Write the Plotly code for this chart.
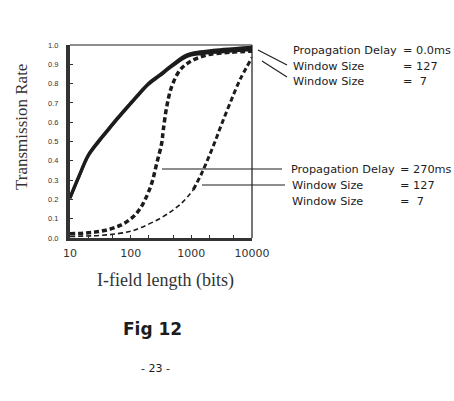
import plotly.graph_objects as go

# ---- data ----
x_d0_w127 = [10, 14, 20, 30, 43, 62, 91, 134, 195, 300, 500, 840, 1400, 3400, 10000]
y_d0_w127 = [0.21, 0.32, 0.43, 0.505, 0.565, 0.625, 0.685, 0.745, 0.80, 0.845, 0.90, 0.948, 0.964, 0.977, 0.988]

x_d0_w7 = [10, 14, 20, 30, 43, 62, 91, 134, 195, 300, 500, 840, 1400, 3400, 10000]
y_d0_w7 = [0.205, 0.315, 0.425, 0.50, 0.56, 0.62, 0.68, 0.74, 0.795, 0.84, 0.893, 0.94, 0.955, 0.965, 0.975]

x_d270_w127 = [10, 31, 67, 110, 143, 172, 222, 269, 324, 345, 393, 474, 650, 950, 1790, 4340, 10000]
y_d270_w127 = [0.022, 0.034, 0.065, 0.11, 0.152, 0.197, 0.283, 0.387, 0.49, 0.56, 0.68, 0.784, 0.87, 0.913, 0.948, 0.962, 0.968]

x_d270_w7 = [10, 30, 60, 100, 150, 300, 500, 740, 1075, 1480, 1900, 2460, 3160, 4340, 6340, 10000]
y_d270_w7 = [0.008, 0.013, 0.022, 0.035, 0.055, 0.10, 0.145, 0.19, 0.25, 0.335, 0.413, 0.50, 0.59, 0.698, 0.82, 0.935]

x_ticks = [10, 100, 1000, 10000]
x_tick_labels = ["10", "100", "1000", "10000"]
y_ticks = [0.0, 0.1, 0.2, 0.3, 0.4, 0.5, 0.6, 0.7, 0.8, 0.9, 1.0]

labels_top = ["Propagation Delay", "Window Size", "Window Size"]
values_top = ["= 0.0ms", "= 127", "=  7"]
labels_bot = ["Propagation Delay", "Window Size", "Window Size"]
values_bot = ["= 270ms", "= 127", "=  7"]

# ---- layout geometry (pixels) ----
W, H = 454, 401
L, R, T, B = 70, 252, 45, 238
pw, ph = R - L, B - T


def px(x):
    return (x - L) / pw


def py(y):
    return (B - y) / ph


INK = "#1c1c1c"
fig = go.Figure()

fig.add_trace(go.Scatter(x=x_d0_w7, y=y_d0_w7, mode="lines",
                         line=dict(color=INK, width=3, shape="spline")))
fig.add_trace(go.Scatter(x=x_d0_w127, y=y_d0_w127, mode="lines",
                         line=dict(color=INK, width=3.2, shape="spline")))
fig.add_trace(go.Scatter(x=x_d270_w127, y=y_d270_w127, mode="lines",
                         line=dict(color=INK, width=3.5, shape="spline", dash="5px,3px")))
split = 9
fig.add_trace(go.Scatter(x=x_d270_w7[:split], y=y_d270_w7[:split], mode="lines",
                         line=dict(color=INK, width=1.6, shape="spline", dash="5px,3px")))
fig.add_trace(go.Scatter(x=x_d270_w7[split - 1:], y=y_d270_w7[split - 1:], mode="lines",
                         line=dict(color=INK, width=3, shape="spline", dash="5px,3px")))

shapes = []
# thin top and right borders
shapes.append(dict(type="line", xref="paper", yref="paper", x0=0, x1=1, y0=1, y1=1,
                   line=dict(color=INK, width=1.2)))
shapes.append(dict(type="line", xref="paper", yref="paper", x0=1, x1=1, y0=0, y1=1,
                   line=dict(color=INK, width=1.2)))
# leader lines
for (x0, y0, x1, y1) in [(258, 50, 287, 65), (262, 61, 287, 77),
                         (162, 169, 282, 169), (202, 185, 285, 185)]:
    shapes.append(dict(type="line", xref="paper", yref="paper",
                       x0=px(x0), y0=py(y0), x1=px(x1), y1=py(y1),
                       line=dict(color=INK, width=1.1)))

annotations = []
lab_font = dict(family="DejaVu Sans", size=11.3, color=INK)
for i, (lab, val) in enumerate(zip(labels_top, values_top)):
    yy = [50, 66, 81][i]
    annotations.append(dict(x=px(291), y=py(yy), xref="paper", yref="paper", text=lab,
                            showarrow=False, xanchor="left", yanchor="middle", font=lab_font))
    annotations.append(dict(x=px(401), y=py(yy), xref="paper", yref="paper", text=val,
                            showarrow=False, xanchor="left", yanchor="middle", font=lab_font))
for i, (lab, val) in enumerate(zip(labels_bot, values_bot)):
    yy = [169, 185, 201][i]
    annotations.append(dict(x=px(289 if i == 0 else 290), y=py(yy), xref="paper", yref="paper",
                            text=lab, showarrow=False, xanchor="left", yanchor="middle",
                            font=lab_font))
    annotations.append(dict(x=px(398), y=py(yy), xref="paper", yref="paper", text=val,
                            showarrow=False, xanchor="left", yanchor="middle", font=lab_font))

annotations.append(dict(x=px(22), y=py(127), xref="paper", yref="paper",
                        text="Transmission Rate", textangle=-90, showarrow=False,
                        xanchor="center", yanchor="middle",
                        font=dict(family="Liberation Serif", size=17, color="#333")))
annotations.append(dict(x=px(165), y=py(280), xref="paper", yref="paper",
                        text="I-field length (bits)", showarrow=False,
                        xanchor="center", yanchor="middle",
                        font=dict(family="Liberation Serif", size=18, color="#333")))
annotations.append(dict(x=px(152), y=py(329), xref="paper", yref="paper",
                        text="<b>Fig 12</b>", showarrow=False,
                        xanchor="center", yanchor="middle",
                        font=dict(family="DejaVu Sans", size=17, color=INK)))
annotations.append(dict(x=px(155), y=py(368), xref="paper", yref="paper",
                        text="- 23 -", showarrow=False,
                        xanchor="center", yanchor="middle",
                        font=dict(family="DejaVu Sans", size=11, color=INK)))

fig.update_layout(
    width=W, height=H,
    margin=dict(l=L, r=W - R, t=T, b=H - B),
    paper_bgcolor="white", plot_bgcolor="white",
    showlegend=False,
    shapes=shapes, annotations=annotations,
    xaxis=dict(type="log", range=[1, 4], tickvals=x_ticks, ticktext=x_tick_labels,
               showgrid=False, zeroline=False, showline=True, linewidth=3, linecolor="#333",
               ticks="inside", ticklen=3, tickcolor="#333",
               minor=dict(ticks="inside", ticklen=3, dtick="D2", tickcolor="#333", showgrid=False),
               ticklabelstandoff=3,
               tickfont=dict(family="DejaVu Sans", size=11, color="#333")),
    yaxis=dict(range=[0, 1.0], tickvals=y_ticks, tickformat=".1f",
               showgrid=False, zeroline=False, showline=True, linewidth=4, linecolor="#333",
               ticks="inside", ticklen=3, tickcolor="#333",
               ticklabelstandoff=6,
               tickfont=dict(family="Liberation Sans", size=7.5, color="#333")),
)

fig.write_html("out.html")
